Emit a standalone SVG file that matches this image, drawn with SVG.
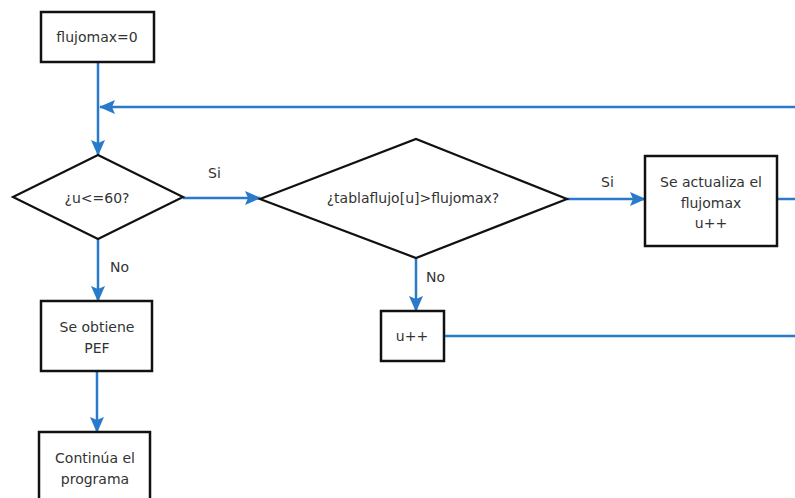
<svg xmlns="http://www.w3.org/2000/svg" width="795" height="498" viewBox="0 0 795 498">
  <style>
    .box { fill: #ffffff; stroke: #111111; stroke-width: 2.5; }
    .dia { fill: #ffffff; stroke: #111111; stroke-width: 2.2; stroke-linejoin: miter; }
    .txt { font-family: "DejaVu Sans", Verdana, sans-serif; font-size: 14px; fill: #333333; text-anchor: middle; dominant-baseline: central; }
    .lbl { font-family: "DejaVu Sans", Verdana, sans-serif; font-size: 14px; fill: #333333; dominant-baseline: central; }
    .flow { fill: none; stroke: #2a7acb; stroke-width: 2.5; }
  </style>
  <defs>
    <marker id="arrow" markerUnits="userSpaceOnUse" markerWidth="16" markerHeight="16" viewBox="0 0 16 16" refX="15" refY="8" orient="auto">
      <path d="M0,1 L16,8 L0,15 L3,8 Z" fill="#2a7acb"/>
    </marker>
  </defs>
  <rect width="795" height="498" fill="#ffffff"/>

  <!-- connectors -->
  <g id="connectors">
    <path class="flow" d="M98,62 V155" marker-end="url(#arrow)"/>
    <path class="flow" d="M795,107 H100" marker-end="url(#arrow)"/>
    <path class="flow" d="M183,198 H260" marker-end="url(#arrow)"/>
    <path class="flow" d="M567,199 H645" marker-end="url(#arrow)"/>
    <path class="flow" d="M777,199 H795"/>
    <path class="flow" d="M416,258 V311" marker-end="url(#arrow)"/>
    <path class="flow" d="M444,336 H795"/>
    <path class="flow" d="M98,239 V301" marker-end="url(#arrow)"/>
    <path class="flow" d="M97,371 V432" marker-end="url(#arrow)"/>
    <text class="lbl" x="208" y="173">Si</text>
    <text class="lbl" x="601" y="182">Si</text>
    <text class="lbl" x="110" y="267">No</text>
    <text class="lbl" x="426" y="277">No</text>
  </g>

  <g id="init">
    <rect class="box" x="41" y="12" width="113" height="50"/>
    <text class="txt" x="97" y="37">flujomax=0</text>
  </g>

  <g id="cond-u">
    <polygon class="dia" points="13,197 98,155 183,197 98,239"/>
    <text class="txt" x="97" y="198">¿u&lt;=60?</text>
  </g>

  <g id="cond-tabla">
    <polygon class="dia" points="260,199 416,139 567,199 416,258"/>
    <text class="txt" x="413" y="198">¿tablaflujo[u]&gt;flujomax?</text>
  </g>

  <g id="update">
    <rect class="box" x="645" y="156" width="132" height="90"/>
    <text class="txt" x="711" y="182">Se actualiza el</text>
    <text class="txt" x="711" y="203">flujomax</text>
    <text class="txt" x="711" y="223">u++</text>
  </g>

  <g id="increment">
    <rect class="box" x="381" y="311" width="63" height="50"/>
    <text class="txt" x="412" y="336">u++</text>
  </g>

  <g id="pef">
    <rect class="box" x="41" y="301" width="111" height="70"/>
    <text class="txt" x="97" y="327">Se obtiene</text>
    <text class="txt" x="97" y="348">PEF</text>
  </g>

  <g id="continue">
    <rect class="box" x="39" y="432" width="111" height="72"/>
    <text class="txt" x="95" y="458">Continúa el</text>
    <text class="txt" x="95" y="479">programa</text>
  </g>
</svg>
